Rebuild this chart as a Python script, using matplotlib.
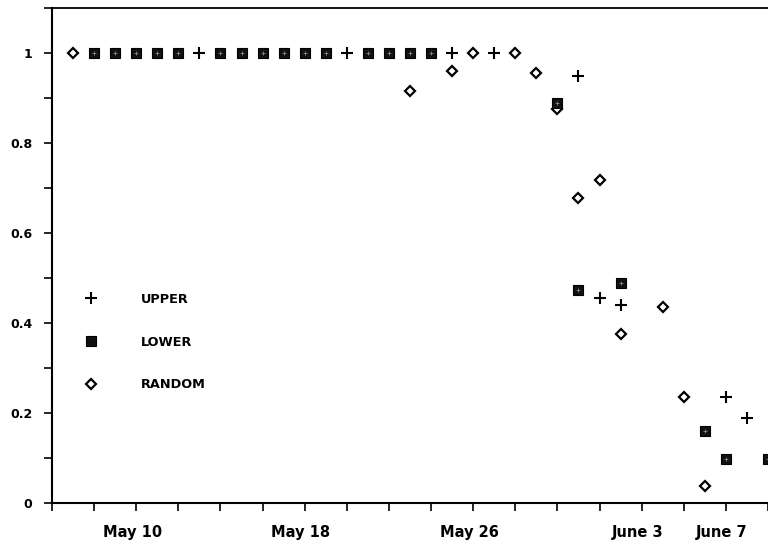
import pandas as pd
import numpy as np
import matplotlib
matplotlib.use('Agg')
import matplotlib.pyplot as plt
import matplotlib.transforms as mtransforms
from matplotlib.ticker import MultipleLocator

plt.rcParams['font.family'] = 'DejaVu Sans'
plt.rcParams['font.weight'] = 'bold'

# Dados (ano arbitrario)
ano = '1990-'
upper_datas = ['05-13', '05-20', '05-25', '05-27', '05-31', '06-01', '06-02', '06-07', '06-08']
upper_vals = [1.0, 1.0, 1.0, 1.0, 0.95, 0.455, 0.44, 0.235, 0.19]

lower_datas = ['05-08', '05-09', '05-10', '05-11', '05-12',
               '05-14', '05-15', '05-16', '05-17', '05-18', '05-19',
               '05-21', '05-22', '05-23', '05-24',
               '05-30', '05-31', '06-02', '06-06', '06-07', '06-09']
lower_vals = [1.0, 1.0, 1.0, 1.0, 1.0,
              1.0, 1.0, 1.0, 1.0, 1.0, 1.0,
              1.0, 1.0, 1.0, 1.0,
              0.89, 0.473, 0.488, 0.159, 0.097, 0.097]

random_datas = ['05-07', '05-23', '05-25', '05-26', '05-28', '05-29', '05-30',
                '05-31', '06-01', '06-02', '06-04', '06-05', '06-06']
random_vals = [1.0, 0.915, 0.96, 1.0, 1.0, 0.955, 0.875,
               0.678, 0.717, 0.375, 0.435, 0.235, 0.038]

rotulos_x = ['May 10', 'May 18', 'May 26', 'June 3', 'June 7']
rotulos_x_datas = ['05-10', '05-18', '05-26', '06-03', '06-07']


def datas(lista):
    return pd.to_datetime([ano + d for d in lista])


fig = plt.figure(figsize=(7.68, 5.5), dpi=100)
ax = fig.add_axes([52 / 768, 47 / 550, 1 - 52 / 768, 0.9])

# ordem de desenho: diamante, cruz, quadrado por cima
l_random, = ax.plot(datas(random_datas), random_vals, linestyle='none', marker='D',
                    markersize=5.2, markerfacecolor='white', markeredgecolor='black',
                    markeredgewidth=1.6, label='RANDOM')
l_upper, = ax.plot(datas(upper_datas), upper_vals, linestyle='none', marker='+',
                   markersize=8, color='black', markeredgewidth=1.5, label='UPPER')
l_lower, = ax.plot(datas(lower_datas), lower_vals, linestyle='none', marker='s',
                   markersize=6.8, markerfacecolor='#111111', markeredgecolor='black',
                   markeredgewidth=0.8, label='LOWER')
ax.plot(datas(lower_datas), lower_vals, linestyle='none', marker='+',
        markersize=3, color='#8a8a8a', markeredgewidth=0.6)

ax.set_xlim(pd.Timestamp(ano + '05-06'), pd.Timestamp(ano + '06-09'))
ax.set_ylim(0, 1.1)

# marcas a cada 2 dias, so algumas com rotulo
marcas = pd.date_range(ano + '05-06', ano + '06-09', freq='2D')
mapa = dict(zip(datas(rotulos_x_datas), rotulos_x))
ax.set_xticks(marcas)
ax.set_xticklabels([mapa.get(m, '') for m in marcas])
ax.tick_params(axis='x', which='major', direction='out', length=6, width=1.2,
               pad=10, labelsize=10.5)
# rotulos levemente deslocados para a esquerda, como no original
desloc = mtransforms.ScaledTranslation(-4 / 100, 0, fig.dpi_scale_trans)
for rot in ax.get_xticklabels():
    rot.set_transform(rot.get_transform() + desloc)

ax.set_yticks([0, 0.2, 0.4, 0.6, 0.8, 1.0])
ax.set_yticklabels(['0', '0.2', '0.4', '0.6', '0.8', '1'])
ax.yaxis.set_minor_locator(MultipleLocator(0.1))
ax.tick_params(axis='y', which='both', direction='out', length=6, width=1.2,
               labelsize=9, pad=8)

ax.spines['right'].set_visible(False)
for lado in ['left', 'bottom']:
    ax.spines[lado].set_linewidth(1.5)
ax.spines['top'].set_linewidth(1.3)

leg = ax.legend(handles=[l_upper, l_lower, l_random], loc='upper left',
                bbox_to_anchor=(78 / 768, 1 - 293 / 550), bbox_transform=fig.transFigure,
                frameon=False, numpoints=1, handlelength=2.0, handletextpad=2.9,
                labelspacing=2.3, borderpad=0, borderaxespad=0,
                prop={'size': 9.3, 'weight': 'bold'})

fig.savefig('out.png', dpi=100)
